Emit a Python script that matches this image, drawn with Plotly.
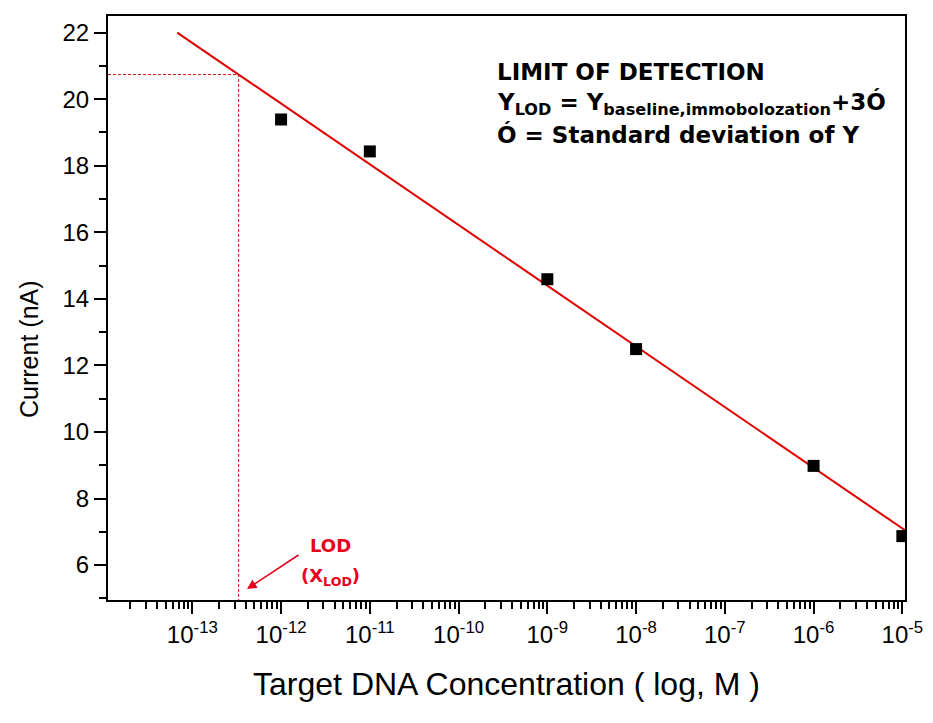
import numpy as np
import plotly.graph_objects as go

# ---- data ----
concentration = [1e-12, 1e-11, 1e-9, 1e-8, 1e-6, 1e-5]
current = [19.39, 18.43, 14.59, 12.49, 8.98, 6.87]

fit_slope = -1.824
fit_intercept = -2.02
fit_log_range = [-13.17, -4.97]
y_lod = 20.74

x_tickvals = [1e-13, 1e-12, 1e-11, 1e-10, 1e-9, 1e-8, 1e-7, 1e-6, 1e-5]
x_ticktext = ["10<sup>-13</sup>", "10<sup>-12</sup>", "10<sup>-11</sup>", "10<sup>-10</sup>",
              "10<sup>-9</sup>", "10<sup>-8</sup>", "10<sup>-7</sup>", "10<sup>-6</sup>",
              "10<sup>-5</sup>"]

fit_lx = np.array(fit_log_range)
fit_x = 10 ** fit_lx
fit_y = fit_intercept + fit_slope * fit_lx
x_lod = 10 ** ((y_lod - fit_intercept) / fit_slope)

RED = "#e8001c"
LINE_RED = "#e00000"

# page body has an 8px margin: figure is drawn 8px smaller and shifted
PW, PH = 797, 584   # plot-area size
L, T = 100, 8

fig = go.Figure()

# dashed LOD guides
fig.add_trace(go.Scatter(x=[10 ** -13.95, x_lod, x_lod], y=[y_lod, y_lod, 4.95],
                         mode="lines", line=dict(color="#c81010", width=1, dash="3px,2px"),
                         hoverinfo="skip", showlegend=False))
# fit line
fig.add_trace(go.Scatter(x=fit_x, y=fit_y, mode="lines",
                         line=dict(color=LINE_RED, width=2), showlegend=False))
# data points
fig.add_trace(go.Scatter(x=concentration, y=current, mode="markers",
                         marker=dict(symbol="square", size=12, color="black"),
                         showlegend=False))

axis_font = "Liberation Sans, Arial, sans-serif"

fig.update_xaxes(type="log", range=[-13.95, -4.97], automargin=False,
                 tickvals=x_tickvals, ticktext=x_ticktext, ticklabeloverflow="allow",
                 ticks="outside", ticklen=12, tickwidth=2, tickcolor="black",
                 showline=True, linecolor="black", linewidth=2, mirror=True,
                 showgrid=False, zeroline=False,
                 tickfont=dict(family=axis_font, size=24, color="black"),
                 minor=dict(ticks="outside", ticklen=7, tickwidth=1.5, tickcolor="black",
                            dtick="D1", showgrid=False),
                 title=dict(text="Target DNA Concentration ( log, M )",
                            font=dict(family=axis_font, size=32, color="black"),
                            standoff=26))
fig.update_yaxes(range=[4.95, 22.5], dtick=2, tick0=0, automargin=False,
                 ticks="outside", ticklen=12, tickwidth=2, tickcolor="black",
                 showline=True, linecolor="black", linewidth=2, mirror=True,
                 showgrid=False, zeroline=False,
                 tickfont=dict(family=axis_font, size=24, color="black"),
                 minor=dict(ticks="outside", ticklen=7, tickwidth=2, tickcolor="black",
                            dtick=1, showgrid=False))

# y-axis title (sits lower than the plot centre in the original)
fig.add_annotation(xref="paper", yref="paper", x=(29 - 108) / PW, y=(600 - 349) / PH,
                   text="Current (nA)", textangle=-90, showarrow=False,
                   xanchor="center", yanchor="middle",
                   font=dict(family=axis_font, size=25, color="black"))

ann_font = dict(family="DejaVu Sans, sans-serif", size=23, color="black")
lines = [
    "<b>LIMIT OF DETECTION</b>",
    "<b>Y<sub>LOD</sub> = Y<sub>baseline,immobolozation</sub>+3Ó</b>",
    "<b>Ó = Standard deviation of Y</b>",
]
ys = [0.904, 0.851, 0.797]
for t, yy in zip(lines, ys):
    fig.add_annotation(xref="paper", yref="paper", x=0.486, y=yy, text=t,
                       showarrow=False, xanchor="left", yanchor="middle",
                       font=ann_font)

red_font = dict(family="DejaVu Sans, sans-serif", size=18, color=RED)
fig.add_annotation(xref="paper", yref="paper", x=(330 - 108) / PW, y=(600 - 545) / PH,
                   text="<b>LOD</b>", showarrow=False, font=red_font,
                   xanchor="center", yanchor="middle")
fig.add_annotation(xref="paper", yref="paper", x=(330 - 108) / PW, y=(600 - 577) / PH,
                   text="<b>(X<sub>LOD</sub>)</b>", showarrow=False, font=red_font,
                   xanchor="center", yanchor="middle")
fig.add_annotation(xref="paper", yref="paper", x=(247 - 108) / PW, y=(600 - 589) / PH,
                   text="", showarrow=True, ax=53, ay=-35,
                   arrowhead=2, arrowsize=1.2, arrowwidth=1.6, arrowcolor=RED)

fig.update_layout(width=925, height=715,
                  margin=dict(l=L, r=925 - L - PW, t=T, b=715 - T - PH),
                  plot_bgcolor="white", paper_bgcolor="white",
                  showlegend=False)

fig.write_html("out.html")
